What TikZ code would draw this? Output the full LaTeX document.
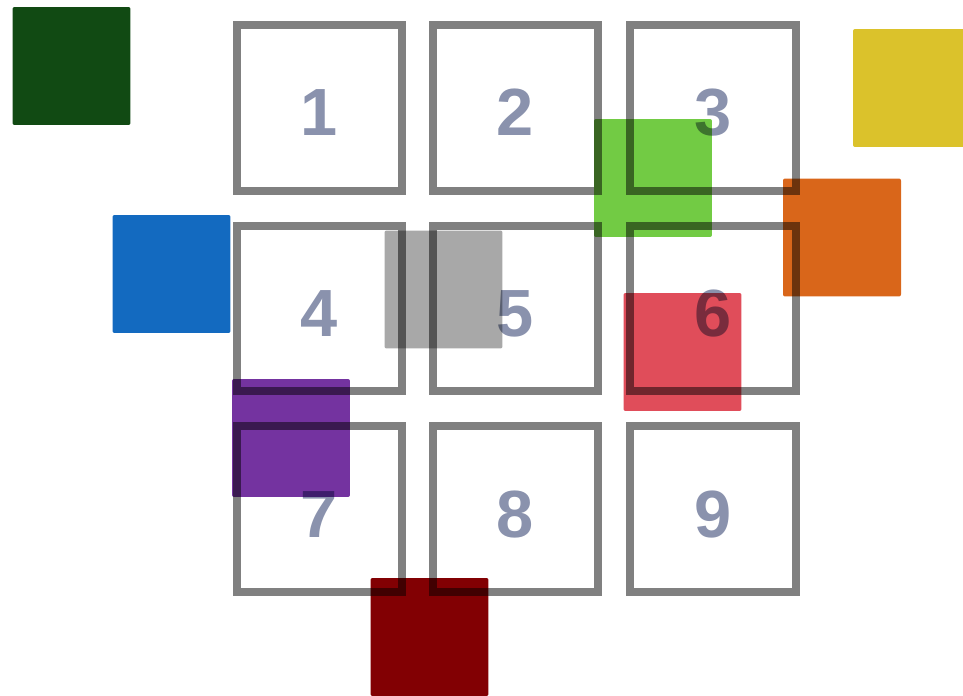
\documentclass[tikz,border=0pt]{standalone}
\usepackage{fontspec}
\newfontfamily\cellfont{Liberation Sans}
\usepackage{xcolor}
\definecolor{CellBorder}{HTML}{808080}
\definecolor{CellText}{HTML}{8A92AD}
\definecolor{DeepGreen}{HTML}{114A13}
\definecolor{Mustard}{HTML}{DBC22B}
\definecolor{LeafGreen}{HTML}{72CB44}
\definecolor{Pumpkin}{HTML}{D9661A}
\definecolor{Azure}{HTML}{136AC0}
\definecolor{Stone}{HTML}{A8A8A8}
\definecolor{Coral}{HTML}{E04D5A}
\definecolor{Grape}{HTML}{7433A0}
\definecolor{Maroon}{HTML}{820003}
\usetikzlibrary{positioning}

\begin{document}
\begin{tikzpicture}[
  x=0.02cm, y=-0.02cm,
  cell/.style={
    rectangle,
    draw=CellBorder,
    line width=0.16cm,
    minimum size=3.32cm,
    inner sep=0pt,
    text height=1.12cm,
    text depth=0pt,
    text=CellText,
    font=\cellfont\bfseries\fontsize{38}{40}\selectfont},
  patch/.style={
    rectangle,
    fill=#1,
    minimum size=2.36cm,
    inner sep=0pt,
    rounded corners=0.04cm},
  patch/.default=Stone,
]

\path[use as bounding box, clip] (0,0) rectangle (963,696);

% coloured patches
\node[patch=DeepGreen] (pdeepgreen) at (71.5,66)   {};
\node[patch=Mustard]   (pmustard)   at (912,88)    {};
\node[patch=LeafGreen] (pleaf)      at (653,178)   {};
\node[patch=Pumpkin]   (ppumpkin)   at (842,237.5) {};
\node[patch=Azure]     (pazure)     at (171.5,274) {};
\node[patch=Stone]     (pstone)     at (443.5,289.5) {};
\node[patch=Coral]     (pcoral)     at (682.5,352) {};
\node[patch=Grape]     (pgrape)     at (291,438)   {};
\node[patch=Maroon]    (pmaroon)    at (429.5,637) {};

% numbered grid
\begin{scope}[blend mode=multiply]
  \node[cell] (cell1) at (319.5,108) {1};
  \node[cell] (cell2) at (515.5,108) {2};
  \node[cell] (cell3) at (713,108)   {3};
  \node[cell] (cell4) at (319.5,308.5) {4};
  \node[cell] (cell5) at (515.5,308.5) {5};
  \node[cell] (cell6) at (713,308.5)   {6};
  \node[cell] (cell7) at (319.5,509) {7};
  \node[cell] (cell8) at (515.5,509) {8};
  \node[cell] (cell9) at (713,509)   {9};
\end{scope}

\end{tikzpicture}
\end{document}
